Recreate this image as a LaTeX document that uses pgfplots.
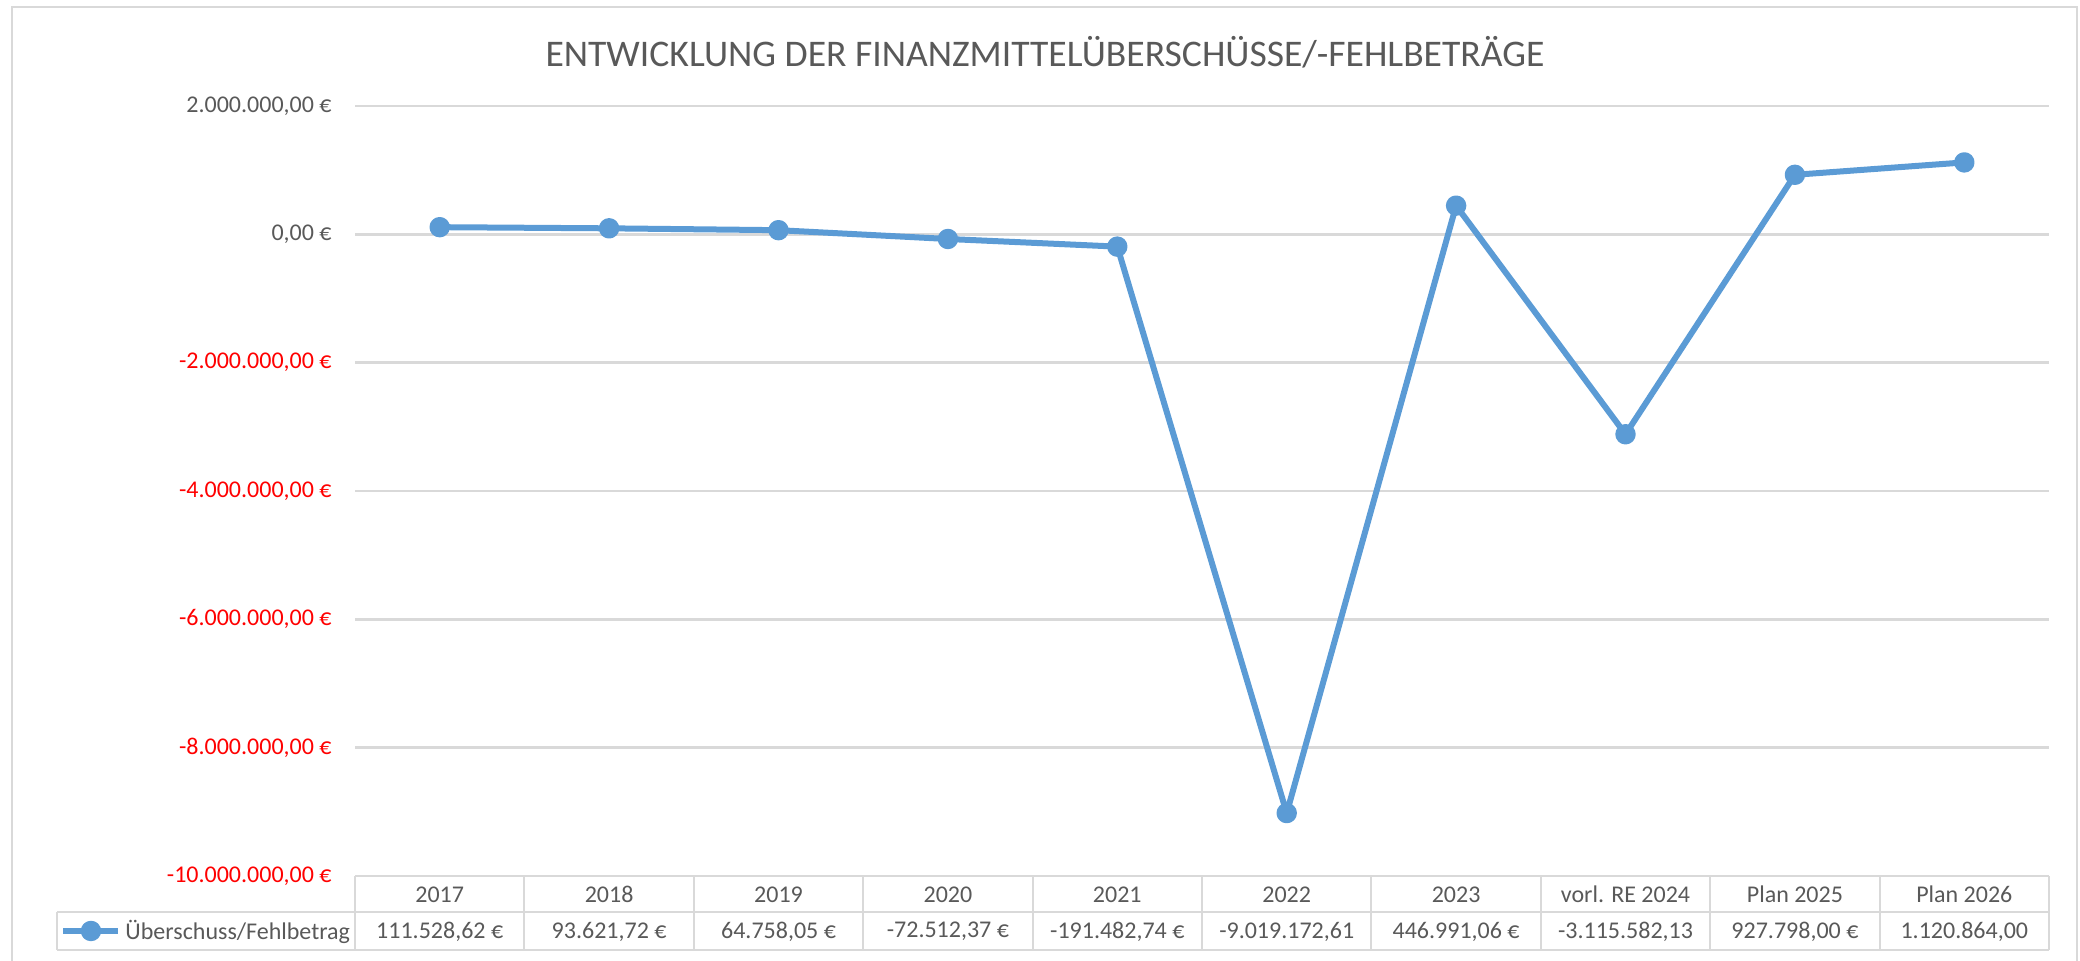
\documentclass[border=0pt]{standalone}
\usepackage{fontspec}
\setmainfont{Carlito}
\usepackage{pgfplots}
\pgfplotsset{compat=1.18}
\definecolor{txt}{HTML}{595959}
\definecolor{gridc}{HTML}{D9D9D9}
\definecolor{ser}{HTML}{5B9BD5}
\begin{document}
\begin{tikzpicture}[x=1pt,y=1pt]
\path[use as bounding box] (0,0) rectangle (1040,480);
\draw[gridc, line width=1pt] (6,-2) -- (6,476.5) -- (1038.5,476.5) -- (1038.5,-2);
\node[text=txt, font=\fontsize{18.8}{22}\selectfont] at (522.5,454) {ENTWICKLUNG DER FINANZMITTELÜBERSCHÜSSE/-FEHLBETRÄGE};
\begin{axis}[
  at={(177.5pt,42pt)}, anchor=south west,
  scale only axis, width=847pt, height=385pt,
  xmin=-0.5, xmax=9.5, ymin=-10000000, ymax=2000000,
  axis line style={draw=none},
  xtick=\empty,
  scaled y ticks=false,
  ytick={-10000000,-8000000,-6000000,-4000000,-2000000,0,2000000},
  yticklabels={{\color{red}-10.000.000,00 €},{\color{red}-8.000.000,00 €},{\color{red}-6.000.000,00 €},{\color{red}-4.000.000,00 €},{\color{red}-2.000.000,00 €},{0,00 €},{2.000.000,00 €}},
  yticklabel style={font=\fontsize{12}{14}\selectfont, text=txt, anchor=east, inner sep=0pt, xshift=-11.5pt},
  major tick length=0pt,
  ymajorgrids,
  major grid style={line width=1.2pt, gridc},
  clip=false,
  legend style={at={(-0.1741,-0.0714)}, anchor=west, draw=none, fill=none, inner sep=0pt, font=\fontsize{12}{14}\selectfont, text=txt},
  legend cell align=left,
  legend image code/.code={\draw[mark repeat=2,mark phase=2,#1] plot coordinates {(0pt,0pt)(13.75pt,0pt)(27.5pt,0pt)};},
]
\addplot[ser, line width=3pt, line join=round, mark=*, mark size=3.6pt, mark options={draw=none, fill=ser}] coordinates {
(0,111528.62) (1,93621.72) (2,64758.05) (3,-72512.37) (4,-191482.74)
(5,-9019172.61) (6,446991.06) (7,-3115582.13) (8,927798.00) (9,1120864.00)};
\addlegendentry{Überschuss/Fehlbetrag}
\end{axis}
\draw[gridc, line width=1pt] (28.5,24) -- (1024.5,24) (28.5,5) -- (1024.5,5) (28.5,24) -- (28.5,5);
\foreach \k in {0,...,10} \draw[gridc, line width=1pt] ({177.5+84.7*\k},42) -- ({177.5+84.7*\k},5);
\foreach \lab [count=\i from 0] in {2017,2018,2019,2020,2021,2022,2023,vorl. RE 2024,Plan 2025,Plan 2026}
  \node[text=txt, font=\fontsize{12}{14}\selectfont] at ({177.5+84.7*(\i+0.5)},32.75) {\lab};
\foreach \lab [count=\i from 0] in {{111.528,62 €},{93.621,72 €},{64.758,05 €},{-72.512,37 €},{-191.482,74 €},{-9.019.172,61},{446.991,06 €},{-3.115.582,13},{927.798,00 €},{1.120.864,00}}
  \node[text=txt, font=\fontsize{12}{14}\selectfont] at ({177.5+84.7*(\i+0.5)},14.25) {\lab};
\end{tikzpicture}
\end{document}
